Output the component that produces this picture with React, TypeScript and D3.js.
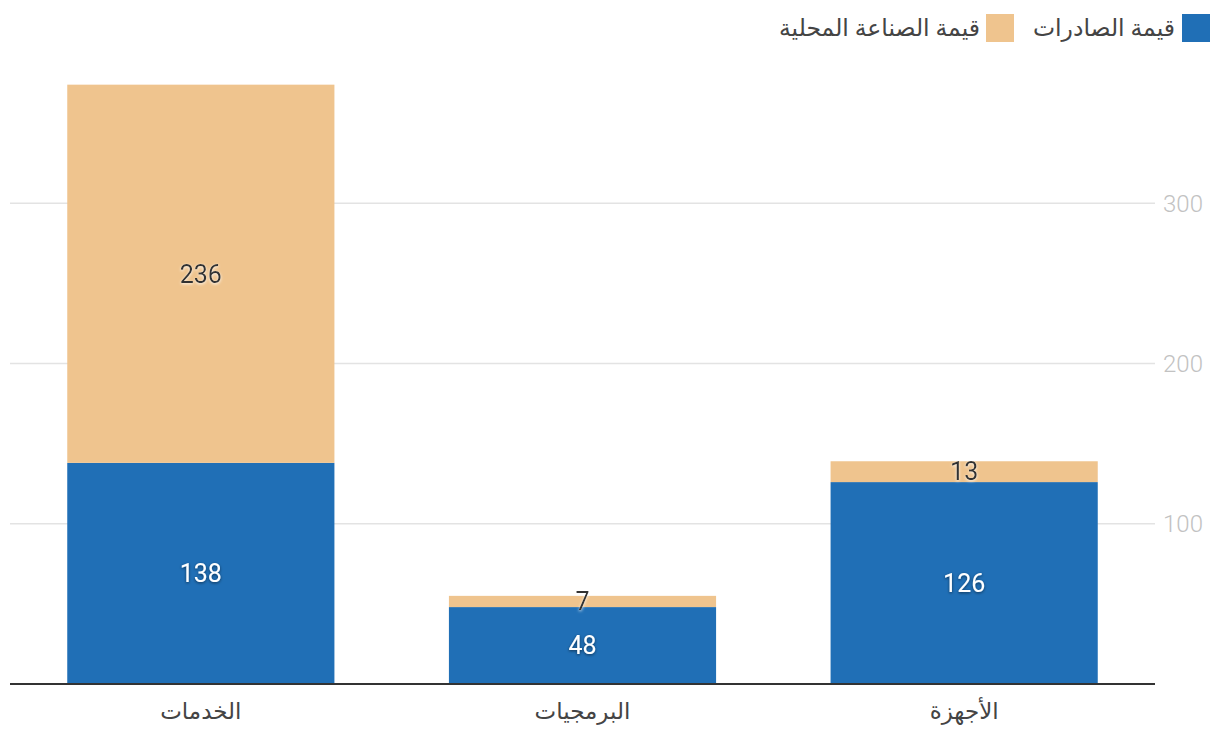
import React from 'react'
import * as d3 from 'd3'

const categories = ['الخدمات', 'البرمجيات', 'الأجهزة']
const exportsValues = [138, 48, 126]
const localValues = [236, 7, 13]
const seriesNames = ['قيمة الصادرات', 'قيمة الصناعة المحلية']
const seriesColors = ['#206fb6', '#efc48e']
const yTicks = [100, 200, 300]

const W = 1220, H = 742
const plot = { left: 10, right: 1155, top: 43, bottom: 684 }
const font = 'Roboto, "DejaVu Sans", sans-serif'

export default function App() {
  const x = d3.scaleBand<string>().domain(categories).range([plot.left, plot.right]).paddingInner(0.3).paddingOuter(0.15)
  const y = d3.scaleLinear().domain([0, 400]).range([plot.bottom, plot.top])

  const rows = categories.map((c, i) => ({ cat: c, exp: exportsValues[i], loc: localValues[i] }))
  const stacked = d3.stack<any>().keys(['exp', 'loc'])(rows)

  return (
    <svg width={W} height={H} style={{ position: 'absolute', left: 0, top: 0, fontFamily: font }}>
      <defs>
        <filter id="darkShadow" x="-20%" y="-20%" width="140%" height="140%">
          <feDropShadow dx="0" dy="1" stdDeviation="1.5" floodColor="#000" floodOpacity="0.55" />
        </filter>
        <filter id="lightShadow" x="-20%" y="-20%" width="140%" height="140%">
          <feDropShadow dx="0" dy="1" stdDeviation="1.5" floodColor="#fff" floodOpacity="0.9" />
        </filter>
      </defs>

      {/* grid */}
      {yTicks.map(t => (
        <g key={t}>
          <line x1={plot.left} x2={plot.right} y1={y(t)} y2={y(t)} stroke="#e3e3e3" strokeWidth={1.5} />
          <text x={1163} y={y(t)} dy="0.35em" fontSize={24} fontWeight={300} fill="#c2c2c2">{t}</text>
        </g>
      ))}

      {/* bars */}
      {stacked.map((s, si) => (
        <g key={si} fill={seriesColors[si]}>
          {s.map((d, i) => (
            <rect key={i} x={x(categories[i])} width={x.bandwidth()} y={y(d[1])} height={y(d[0]) - y(d[1])} />
          ))}
        </g>
      ))}

      {/* value labels */}
      {stacked.map((s, si) => s.map((d, i) => (
        <text key={`${si}-${i}`} x={(x(categories[i]) as number) + x.bandwidth() / 2} y={y((d[0] + d[1]) / 2)} dy="0.35em"
          textAnchor="middle" fontSize={25} fill={si === 0 ? '#ffffff' : '#333333'}
          filter={si === 0 ? 'url(#darkShadow)' : 'url(#lightShadow)'}>
          {d[1] - d[0]}
        </text>
      )))}

      {/* baseline */}
      <line x1={plot.left} x2={plot.right} y1={plot.bottom} y2={plot.bottom} stroke="#333" strokeWidth={2} />

      {/* category labels */}
      {categories.map(c => (
        <text key={c} x={(x(c) as number) + x.bandwidth() / 2} y={711} dy="0.35em" textAnchor="middle" fontSize={23} fill="#444">{c}</text>
      ))}

      {/* legend */}
      <g>
        <rect x={1182} y={14} width={28} height={28} fill={seriesColors[0]} />
        <text x={1175} y={28} dy="0.35em" textAnchor="end" fontSize={23.5} fill="#444">{seriesNames[0]}</text>
        <rect x={986} y={14} width={28} height={28} fill={seriesColors[1]} />
        <text x={980} y={28} dy="0.35em" textAnchor="end" fontSize={23.5} fill="#444">{seriesNames[1]}</text>
      </g>
    </svg>
  )
}
